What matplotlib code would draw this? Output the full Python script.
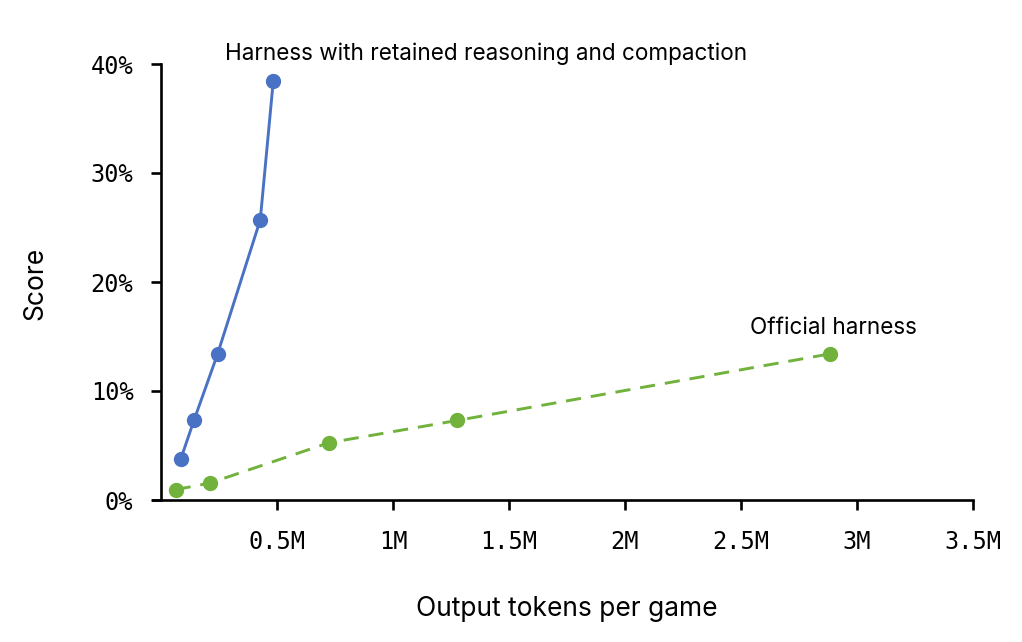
import matplotlib
matplotlib.use('Agg')
import matplotlib.pyplot as plt
from matplotlib.ticker import FuncFormatter

# 数据 (读图估计, 单位: tokens / %)
retained_tokens = [0.084e6, 0.141e6, 0.243e6, 0.427e6, 0.483e6]
retained_score = [3.75, 7.3, 13.4, 25.7, 38.4]
official_tokens = [0.062e6, 0.209e6, 0.723e6, 1.277e6, 2.883e6]
official_score = [0.95, 1.55, 5.25, 7.3, 13.4]
x_ticks = [0.5e6, 1e6, 1.5e6, 2e6, 2.5e6, 3e6, 3.5e6]
y_ticks = [0, 10, 20, 30, 40]

blue = '#4A72C4'
green = '#70B23B'
label_font = 'Inter'
mono_font = 'DejaVu Sans Mono'

fig = plt.figure(figsize=(10.22, 6.42), dpi=100)
ax = fig.add_axes([153 / 1022, 1 - 500 / 642, (972.7 - 153) / 1022, (500 - 64) / 642])

ax.plot(retained_tokens, retained_score, color=blue, lw=2.1, marker='o', ms=10, clip_on=False)
ax.plot(official_tokens, official_score, color=green, lw=2.1, marker='o', ms=10,
        dashes=(5.2, 3.4), clip_on=False)

ax.set_xlim(-0.0356e6, 3.5e6)
ax.set_ylim(0, 40)
ax.spines['left'].set_position(('data', 0))
ax.spines['top'].set_visible(False)
ax.spines['right'].set_visible(False)
for s in ['left', 'bottom']:
    ax.spines[s].set_linewidth(1.9)

ax.set_xticks(x_ticks)
ax.set_yticks(y_ticks)
ax.xaxis.set_major_formatter(FuncFormatter(lambda v, p: f'{v / 1e6:g}M'))
ax.yaxis.set_major_formatter(FuncFormatter(lambda v, p: f'{v:g}%'))
ax.tick_params(axis='both', width=1.9, length=7, labelsize=17)
ax.tick_params(axis='y', pad=13)
ax.tick_params(axis='x', pad=14.5)
for lab in ax.get_xticklabels() + ax.get_yticklabels():
    lab.set_fontfamily(mono_font)

# 坐标轴标题
ax.set_xlabel('Output tokens per game', fontsize=19, family=label_font)
ax.set_ylabel('Score', fontsize=19, family=label_font)
ax.xaxis.set_label_coords((567 - 153) / 819.7, (500 - 596) / 436)
ax.yaxis.set_label_coords((48 - 153) / 819.7, (500 - 283) / 436)

# 曲线注释
ax.text(0.277e6, 40.9, 'Harness with retained reasoning and compaction',
        fontsize=16.2, family=label_font, ha='left', va='center', clip_on=False)
ax.text(official_tokens[-1] + 0.017e6, 15.8, 'Official harness', fontsize=16.2,
        family=label_font, ha='center', va='center')

fig.savefig('out.png', dpi=100)
